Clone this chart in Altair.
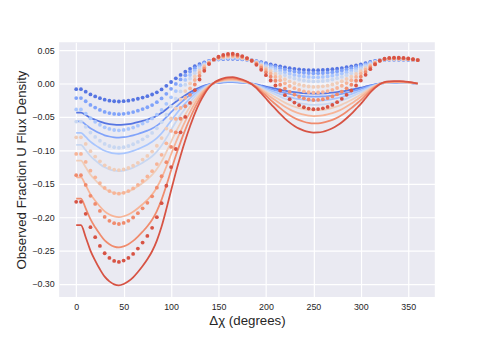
import altair as alt
import pandas as pd

# ---------------- data ----------------
x_deg = [0, 5, 10, 15, 20, 25, 30, 35, 40, 45, 50, 55, 60, 65, 70, 75, 80, 85, 90, 95,
         100, 105, 110, 115, 120, 125, 130, 135, 140, 145, 150, 155, 160, 165, 170, 175,
         180, 185, 190, 195, 200, 205, 210, 215, 220, 225, 230, 235, 240, 245, 250, 255,
         260, 265, 270, 275, 280, 285, 290, 295, 300, 305, 310, 315, 320, 325, 330, 335,
         340, 345, 350, 355, 360]

x_ticks = [0, 50, 100, 150, 200, 250, 300, 350]
y_ticks = [-0.30, -0.25, -0.20, -0.15, -0.10, -0.05, 0.00, 0.05]

series_names = ["s0", "s1", "s2", "s3", "s4", "s5", "s6", "s7"]
series_colors = ["#5675e2", "#80a3fa", "#a9c6fe", "#c8d7f1",
                 "#f0cdb9", "#f7b497", "#f08b6d", "#d75344"]

line_c0 = [-0.0435, -0.0435, -0.0472, -0.0513, -0.0543, -0.0570, -0.0592, -0.0607, -0.0616, -0.0619,
           -0.0615, -0.0607, -0.0595, -0.0578, -0.0560, -0.0539, -0.0515, -0.0482, -0.0439, -0.0385,
           -0.0328, -0.0273, -0.0221, -0.0174, -0.0131, -0.0092, -0.0059, -0.0033, -0.0012, 0.0002,
           0.0010, 0.0016, 0.0019, 0.0019, 0.0017, 0.0012, 0.0006, -0.0002, -0.0014, -0.0030,
           -0.0046, -0.0063, -0.0078, -0.0093, -0.0108, -0.0120, -0.0130, -0.0138, -0.0145, -0.0149,
           -0.0151, -0.0150, -0.0148, -0.0144, -0.0137, -0.0129, -0.0119, -0.0107, -0.0093, -0.0078,
           -0.0063, -0.0045, -0.0028, -0.0013, -0.0002, 0.0004, 0.0007, 0.0007, 0.0007, 0.0007,
           0.0005, 0.0003, 0.0]
line_c1 = [-0.0568, -0.0568, -0.0616, -0.0670, -0.0710, -0.0745, -0.0775, -0.0793, -0.0805, -0.0809,
           -0.0804, -0.0793, -0.0777, -0.0756, -0.0732, -0.0705, -0.0673, -0.0630, -0.0574, -0.0504,
           -0.0429, -0.0356, -0.0289, -0.0228, -0.0172, -0.0121, -0.0078, -0.0043, -0.0016, 0.0003,
           0.0013, 0.0021, 0.0025, 0.0025, 0.0022, 0.0016, 0.0008, -0.0003, -0.0019, -0.0039,
           -0.0060, -0.0082, -0.0102, -0.0122, -0.0141, -0.0157, -0.0170, -0.0181, -0.0189, -0.0194,
           -0.0197, -0.0196, -0.0193, -0.0188, -0.0180, -0.0169, -0.0155, -0.0139, -0.0122, -0.0102,
           -0.0082, -0.0059, -0.0036, -0.0017, -0.0003, 0.0005, 0.0009, 0.0010, 0.0009, 0.0009,
           0.0007, 0.0003, 0.0]
line_c2 = [-0.0738, -0.0738, -0.0800, -0.0870, -0.0922, -0.0967, -0.1006, -0.1030, -0.1046, -0.1051,
           -0.1044, -0.1030, -0.1009, -0.0981, -0.0950, -0.0915, -0.0873, -0.0818, -0.0745, -0.0654,
           -0.0557, -0.0463, -0.0376, -0.0296, -0.0223, -0.0157, -0.0101, -0.0056, -0.0021, 0.0003,
           0.0017, 0.0027, 0.0032, 0.0033, 0.0029, 0.0021, 0.0010, -0.0003, -0.0024, -0.0050,
           -0.0078, -0.0106, -0.0132, -0.0158, -0.0183, -0.0204, -0.0221, -0.0235, -0.0245, -0.0252,
           -0.0256, -0.0255, -0.0251, -0.0244, -0.0233, -0.0219, -0.0202, -0.0181, -0.0158, -0.0132,
           -0.0106, -0.0077, -0.0047, -0.0023, -0.0003, 0.0007, 0.0011, 0.0013, 0.0012, 0.0011,
           0.0009, 0.0005, 0.0]
line_c3 = [-0.0920, -0.0920, -0.0998, -0.1085, -0.1150, -0.1207, -0.1254, -0.1285, -0.1304, -0.1311,
           -0.1302, -0.1285, -0.1259, -0.1224, -0.1185, -0.1141, -0.1089, -0.1020, -0.0929, -0.0816,
           -0.0694, -0.0577, -0.0469, -0.0369, -0.0278, -0.0195, -0.0126, -0.0069, -0.0026, 0.0004,
           0.0022, 0.0034, 0.0040, 0.0041, 0.0036, 0.0026, 0.0013, -0.0004, -0.0030, -0.0063,
           -0.0098, -0.0132, -0.0165, -0.0197, -0.0228, -0.0254, -0.0276, -0.0293, -0.0306, -0.0315,
           -0.0319, -0.0318, -0.0313, -0.0304, -0.0291, -0.0273, -0.0252, -0.0226, -0.0197, -0.0165,
           -0.0132, -0.0095, -0.0059, -0.0028, -0.0004, 0.0009, 0.0014, 0.0016, 0.0015, 0.0014,
           0.0011, 0.0006, 0.0]
line_c4 = [-0.1155, -0.1155, -0.1254, -0.1363, -0.1444, -0.1515, -0.1575, -0.1613, -0.1638, -0.1646,
           -0.1635, -0.1613, -0.1581, -0.1537, -0.1488, -0.1433, -0.1368, -0.1281, -0.1166, -0.1025,
           -0.0872, -0.0725, -0.0589, -0.0463, -0.0349, -0.0245, -0.0158, -0.0087, -0.0033, 0.0005,
           0.0027, 0.0043, 0.0051, 0.0052, 0.0045, 0.0033, 0.0016, -0.0005, -0.0038, -0.0079,
           -0.0123, -0.0166, -0.0207, -0.0248, -0.0286, -0.0319, -0.0346, -0.0368, -0.0384, -0.0395,
           -0.0401, -0.0399, -0.0393, -0.0382, -0.0365, -0.0343, -0.0316, -0.0283, -0.0248, -0.0207,
           -0.0166, -0.0120, -0.0074, -0.0035, -0.0005, 0.0011, 0.0017, 0.0020, 0.0019, 0.0018,
           0.0014, 0.0007, 0.0]
line_c5 = [-0.1403, -0.1403, -0.1523, -0.1655, -0.1754, -0.1840, -0.1913, -0.1960, -0.1989, -0.1999,
           -0.1986, -0.1960, -0.1920, -0.1867, -0.1807, -0.1741, -0.1662, -0.1556, -0.1417, -0.1245,
           -0.1059, -0.0880, -0.0715, -0.0563, -0.0424, -0.0298, -0.0192, -0.0106, -0.0040, 0.0007,
           0.0033, 0.0052, 0.0062, 0.0063, 0.0054, 0.0040, 0.0020, -0.0007, -0.0046, -0.0096,
           -0.0149, -0.0202, -0.0252, -0.0301, -0.0348, -0.0387, -0.0420, -0.0447, -0.0467, -0.0480,
           -0.0487, -0.0485, -0.0478, -0.0463, -0.0444, -0.0417, -0.0384, -0.0344, -0.0301, -0.0252,
           -0.0202, -0.0146, -0.0089, -0.0043, -0.0007, 0.0013, 0.0021, 0.0024, 0.0023, 0.0022,
           0.0017, 0.0009, 0.0]
line_c6 = [-0.1721, -0.1721, -0.1868, -0.2030, -0.2152, -0.2257, -0.2347, -0.2404, -0.2440, -0.2452,
           -0.2436, -0.2404, -0.2355, -0.2290, -0.2217, -0.2136, -0.2038, -0.1908, -0.1738, -0.1527,
           -0.1299, -0.1080, -0.0877, -0.0690, -0.0520, -0.0365, -0.0235, -0.0130, -0.0049, 0.0008,
           0.0041, 0.0063, 0.0076, 0.0077, 0.0067, 0.0049, 0.0024, -0.0008, -0.0057, -0.0118,
           -0.0183, -0.0248, -0.0309, -0.0369, -0.0426, -0.0475, -0.0516, -0.0548, -0.0572, -0.0589,
           -0.0597, -0.0595, -0.0586, -0.0568, -0.0544, -0.0512, -0.0471, -0.0422, -0.0369, -0.0309,
           -0.0248, -0.0179, -0.0110, -0.0053, -0.0008, 0.0016, 0.0026, 0.0029, 0.0028, 0.0027,
           0.0020, 0.0011, 0.0]
line_c7 = [-0.212, -0.212, -0.230, -0.250, -0.265, -0.278, -0.289, -0.296, -0.3005, -0.302,
           -0.300, -0.296, -0.290, -0.282, -0.273, -0.263, -0.251, -0.235, -0.214, -0.188,
           -0.160, -0.133, -0.108, -0.085, -0.064, -0.045, -0.029, -0.016, -0.006, 0.001,
           0.005, 0.0078, 0.0093, 0.0095, 0.0082, 0.006, 0.003, -0.001, -0.007, -0.0145,
           -0.0225, -0.0305, -0.038, -0.0455, -0.0525, -0.0585, -0.0635, -0.0675, -0.0705, -0.0725,
           -0.0735, -0.0733, -0.0722, -0.070, -0.067, -0.063, -0.058, -0.052, -0.0455, -0.038,
           -0.0305, -0.022, -0.0135, -0.0065, -0.001, 0.002, 0.0032, 0.0036, 0.0035, 0.0033,
           0.0025, 0.0013, 0.0]

dots_c0 = [-0.0085, -0.0085, -0.0122, -0.0163, -0.0193, -0.0220, -0.0242, -0.0257, -0.0266, -0.0269,
           -0.0265, -0.0257, -0.0245, -0.0228, -0.0210, -0.0189, -0.0165, -0.0132, -0.0089, -0.0035,
           0.0022, 0.0077, 0.0129, 0.0176, 0.0219, 0.0258, 0.0291, 0.0317, 0.0338, 0.0352,
           0.0360, 0.0366, 0.0369, 0.0369, 0.0367, 0.0362, 0.0356, 0.0348, 0.0336, 0.0320,
           0.0304, 0.0287, 0.0272, 0.0257, 0.0242, 0.0230, 0.0220, 0.0212, 0.0205, 0.0201,
           0.0199, 0.0200, 0.0202, 0.0206, 0.0213, 0.0221, 0.0231, 0.0243, 0.0257, 0.0272,
           0.0287, 0.0305, 0.0322, 0.0337, 0.0348, 0.0354, 0.0357, 0.0357, 0.0357, 0.0357,
           0.0355, 0.0353, 0.0350]
dots_c1 = [-0.0218, -0.0218, -0.0266, -0.0320, -0.0360, -0.0395, -0.0425, -0.0443, -0.0455, -0.0459,
           -0.0454, -0.0443, -0.0427, -0.0406, -0.0382, -0.0355, -0.0323, -0.0280, -0.0224, -0.0154,
           -0.0079, -0.0006, 0.0061, 0.0122, 0.0178, 0.0229, 0.0272, 0.0307, 0.0334, 0.0353,
           0.0363, 0.0371, 0.0375, 0.0375, 0.0372, 0.0366, 0.0358, 0.0347, 0.0331, 0.0311,
           0.0290, 0.0268, 0.0248, 0.0228, 0.0209, 0.0193, 0.0180, 0.0169, 0.0161, 0.0156,
           0.0153, 0.0154, 0.0157, 0.0162, 0.0170, 0.0181, 0.0195, 0.0211, 0.0228, 0.0248,
           0.0268, 0.0291, 0.0314, 0.0333, 0.0347, 0.0355, 0.0359, 0.0360, 0.0359, 0.0359,
           0.0357, 0.0353, 0.0350]
dots_c2 = [-0.0388, -0.0388, -0.0450, -0.0520, -0.0572, -0.0617, -0.0656, -0.0680, -0.0696, -0.0701,
           -0.0694, -0.0680, -0.0659, -0.0631, -0.0600, -0.0565, -0.0523, -0.0468, -0.0395, -0.0304,
           -0.0207, -0.0113, -0.0026, 0.0054, 0.0127, 0.0193, 0.0249, 0.0294, 0.0329, 0.0353,
           0.0367, 0.0377, 0.0382, 0.0383, 0.0379, 0.0371, 0.0360, 0.0347, 0.0326, 0.0300,
           0.0272, 0.0244, 0.0218, 0.0192, 0.0167, 0.0146, 0.0129, 0.0115, 0.0105, 0.0098,
           0.0094, 0.0095, 0.0099, 0.0106, 0.0117, 0.0131, 0.0148, 0.0169, 0.0192, 0.0218,
           0.0244, 0.0273, 0.0303, 0.0327, 0.0347, 0.0357, 0.0361, 0.0363, 0.0362, 0.0361,
           0.0359, 0.0355, 0.0350]
dots_c3 = [-0.0570, -0.0570, -0.0648, -0.0735, -0.0800, -0.0857, -0.0904, -0.0935, -0.0954, -0.0961,
           -0.0952, -0.0935, -0.0909, -0.0874, -0.0835, -0.0791, -0.0739, -0.0670, -0.0579, -0.0466,
           -0.0344, -0.0227, -0.0119, -0.0019, 0.0072, 0.0155, 0.0224, 0.0281, 0.0324, 0.0354,
           0.0372, 0.0384, 0.0390, 0.0391, 0.0386, 0.0376, 0.0363, 0.0346, 0.0320, 0.0287,
           0.0252, 0.0218, 0.0185, 0.0153, 0.0122, 0.0096, 0.0074, 0.0057, 0.0044, 0.0035,
           0.0031, 0.0032, 0.0037, 0.0046, 0.0059, 0.0077, 0.0098, 0.0124, 0.0153, 0.0185,
           0.0218, 0.0255, 0.0291, 0.0322, 0.0346, 0.0359, 0.0364, 0.0366, 0.0365, 0.0364,
           0.0361, 0.0356, 0.0350]
dots_c4 = [-0.0805, -0.0805, -0.0904, -0.1013, -0.1094, -0.1165, -0.1225, -0.1263, -0.1288, -0.1296,
           -0.1285, -0.1263, -0.1231, -0.1187, -0.1138, -0.1083, -0.1018, -0.0931, -0.0816, -0.0675,
           -0.0522, -0.0375, -0.0239, -0.0113, 0.0001, 0.0105, 0.0192, 0.0263, 0.0317, 0.0355,
           0.0377, 0.0393, 0.0401, 0.0402, 0.0395, 0.0383, 0.0366, 0.0345, 0.0312, 0.0271,
           0.0227, 0.0184, 0.0143, 0.0102, 0.0064, 0.0031, 0.0004, -0.0018, -0.0034, -0.0045,
           -0.0051, -0.0049, -0.0043, -0.0032, -0.0015, 0.0007, 0.0034, 0.0067, 0.0102, 0.0143,
           0.0184, 0.0230, 0.0276, 0.0315, 0.0345, 0.0361, 0.0367, 0.0370, 0.0369, 0.0368,
           0.0364, 0.0357, 0.0350]
dots_c5 = [-0.1053, -0.1053, -0.1173, -0.1305, -0.1404, -0.1490, -0.1563, -0.1610, -0.1639, -0.1649,
           -0.1636, -0.1610, -0.1570, -0.1517, -0.1457, -0.1391, -0.1312, -0.1206, -0.1067, -0.0895,
           -0.0709, -0.0530, -0.0365, -0.0213, -0.0074, 0.0052, 0.0158, 0.0244, 0.0310, 0.0357,
           0.0383, 0.0402, 0.0412, 0.0413, 0.0404, 0.0390, 0.0370, 0.0343, 0.0304, 0.0254,
           0.0201, 0.0148, 0.0098, 0.0049, 0.0002, -0.0037, -0.0070, -0.0097, -0.0117, -0.0130,
           -0.0137, -0.0135, -0.0128, -0.0113, -0.0094, -0.0067, -0.0034, 0.0006, 0.0049, 0.0098,
           0.0148, 0.0204, 0.0261, 0.0307, 0.0343, 0.0363, 0.0371, 0.0374, 0.0373, 0.0372,
           0.0367, 0.0359, 0.0350]
dots_c6 = [-0.1371, -0.1371, -0.1518, -0.1680, -0.1802, -0.1907, -0.1997, -0.2054, -0.2090, -0.2102,
           -0.2086, -0.2054, -0.2005, -0.1940, -0.1867, -0.1786, -0.1688, -0.1558, -0.1388, -0.1177,
           -0.0949, -0.0730, -0.0527, -0.0340, -0.0170, -0.0015, 0.0115, 0.0220, 0.0301, 0.0358,
           0.0391, 0.0413, 0.0426, 0.0427, 0.0417, 0.0399, 0.0374, 0.0342, 0.0293, 0.0232,
           0.0167, 0.0102, 0.0041, -0.0019, -0.0076, -0.0125, -0.0166, -0.0198, -0.0222, -0.0239,
           -0.0247, -0.0245, -0.0236, -0.0218, -0.0194, -0.0162, -0.0121, -0.0072, -0.0019, 0.0041,
           0.0102, 0.0171, 0.0240, 0.0297, 0.0342, 0.0366, 0.0376, 0.0379, 0.0378, 0.0377,
           0.0370, 0.0361, 0.0350]
dots_c7 = [-0.177, -0.177, -0.195, -0.215, -0.230, -0.243, -0.254, -0.261, -0.2655, -0.267,
           -0.265, -0.261, -0.255, -0.247, -0.238, -0.228, -0.216, -0.200, -0.179, -0.153,
           -0.125, -0.098, -0.073, -0.050, -0.029, -0.010, 0.006, 0.019, 0.029, 0.036,
           0.040, 0.0428, 0.0443, 0.0445, 0.0432, 0.041, 0.038, 0.034, 0.028, 0.0205,
           0.0125, 0.0045, -0.003, -0.0105, -0.0175, -0.0235, -0.0285, -0.0325, -0.0355, -0.0375,
           -0.0385, -0.0383, -0.0372, -0.035, -0.032, -0.028, -0.023, -0.017, -0.0105, -0.003,
           0.0045, 0.013, 0.0215, 0.0285, 0.034, 0.037, 0.0382, 0.0386, 0.0385, 0.0383,
           0.0375, 0.0363, 0.035]

line_values = [line_c0, line_c1, line_c2, line_c3, line_c4, line_c5, line_c6, line_c7]
dot_values = [dots_c0, dots_c1, dots_c2, dots_c3, dots_c4, dots_c5, dots_c6, dots_c7]

for k, arr in enumerate(line_values + dot_values):
    assert len(arr) == len(x_deg), (k, len(arr))

line_rows, dot_rows = [], []
n = 0
for i, name in enumerate(series_names):
    for xv, yv in zip(x_deg, line_values[i]):
        line_rows.append({"x": xv, "y": yv, "s": name})
    for xv, yv in zip(x_deg, dot_values[i]):
        dot_rows.append({"x": xv, "y": yv, "s": name, "k": n})
        n += 1
df_lines = pd.DataFrame(line_rows)
df_dots = pd.DataFrame(dot_rows)

FONT = "Liberation Sans"
x_scale = alt.Scale(domain=[-18, 378], nice=False, zero=False)
y_scale = alt.Scale(domain=[-0.3193, 0.0618], nice=False, zero=False)
color_scale = alt.Scale(domain=series_names, range=series_colors)

x_enc = alt.X("x:Q", scale=x_scale,
              axis=alt.Axis(values=x_ticks, format="d", title="Δχ (degrees)",
                            labelPadding=6, titlePadding=2))
y_enc = alt.Y("y:Q", scale=y_scale,
              axis=alt.Axis(values=y_ticks, format=".2f",
                            title="Observed Fraction U Flux Density",
                            labelPadding=5, titlePadding=3))
c_enc = alt.Color("s:N", scale=color_scale, legend=None)

lines = alt.Chart(df_lines).mark_line(strokeWidth=1.8, interpolate="monotone").encode(
    x=x_enc, y=y_enc, color=c_enc)
points = alt.Chart(df_dots).mark_circle(size=15, opacity=1).encode(
    x=x_enc, y=y_enc, color=c_enc, order=alt.Order("k:Q"))

chart = (
    alt.layer(lines, points)
    .properties(width=382, height=259, background="white",
                padding={"left": 52, "top": 32, "right": 49, "bottom": 38},
                autosize=alt.AutoSizeParams(type="none"))
    .configure_view(fill="#EAEAF2", stroke=None)
    .configure_axis(grid=True, gridColor="white", gridWidth=1.2, domain=False,
                    ticks=False, labelFont=FONT, labelFontSize=9, labelColor="#262626",
                    titleFont=FONT, titleFontSize=13.5,
                    titleFontWeight="normal", titleColor="#262626")
)

chart.save("out.html", embed_options={"renderer": "svg", "actions": False})
